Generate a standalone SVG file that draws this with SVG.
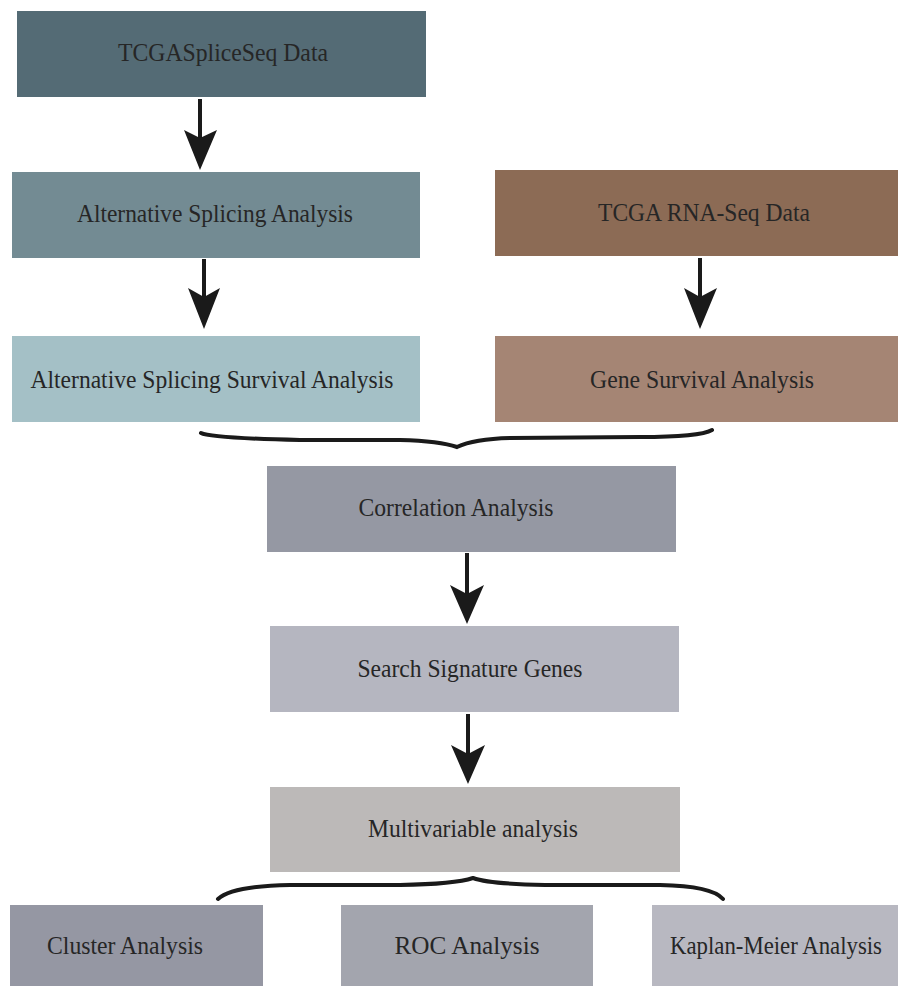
<svg xmlns="http://www.w3.org/2000/svg" width="898" height="986" viewBox="0 0 898 986">
<defs>
<style>
text.lbl{font-family:'Liberation Serif', 'DejaVu Serif', serif;font-size:25px;fill:#262626;text-anchor:middle}
.ln{stroke:#1a1a1a;stroke-width:4;fill:none}
.hd{fill:#1a1a1a}
.br{stroke:#1a1a1a;stroke-width:4;fill:none;stroke-linecap:round}
</style>
</defs>
<rect width="898" height="986" fill="#ffffff"/>
<g id="n1"><rect x="17" y="11" width="409" height="86" fill="#546b75"/><text class="lbl" x="223" y="61" textLength="210" lengthAdjust="spacingAndGlyphs">TCGASpliceSeq Data</text></g>
<g id="n2"><rect x="12" y="172" width="408" height="86" fill="#738b93"/><text class="lbl" x="215" y="222" textLength="276" lengthAdjust="spacingAndGlyphs">Alternative Splicing Analysis</text></g>
<g id="n3"><rect x="495" y="170" width="403" height="86" fill="#8c6b55"/><text class="lbl" x="704" y="221" textLength="212" lengthAdjust="spacingAndGlyphs">TCGA RNA-Seq Data</text></g>
<g id="n4"><rect x="12" y="336" width="408" height="86" fill="#a4c0c6"/><text class="lbl" x="212" y="388" textLength="363" lengthAdjust="spacingAndGlyphs">Alternative Splicing Survival Analysis</text></g>
<g id="n5"><rect x="495" y="336" width="403" height="86" fill="#a58574"/><text class="lbl" x="702" y="388" textLength="224" lengthAdjust="spacingAndGlyphs">Gene Survival Analysis</text></g>
<g id="n6"><rect x="267" y="466" width="409" height="86" fill="#9598a3"/><text class="lbl" x="456" y="516" textLength="195" lengthAdjust="spacingAndGlyphs">Correlation Analysis</text></g>
<g id="n7"><rect x="270" y="626" width="409" height="86" fill="#b5b6c0"/><text class="lbl" x="470" y="677" textLength="225" lengthAdjust="spacingAndGlyphs">Search Signature Genes</text></g>
<g id="n8"><rect x="270" y="787" width="410" height="85" fill="#bcb9b8"/><text class="lbl" x="473" y="837" textLength="210" lengthAdjust="spacingAndGlyphs">Multivariable analysis</text></g>
<g id="n9"><rect x="10" y="905" width="253" height="81" fill="#9597a3"/><text class="lbl" x="125" y="954" textLength="156" lengthAdjust="spacingAndGlyphs">Cluster Analysis</text></g>
<g id="n10"><rect x="341" y="905" width="252" height="81" fill="#a3a5ae"/><text class="lbl" x="467" y="954" textLength="145" lengthAdjust="spacingAndGlyphs">ROC Analysis</text></g>
<g id="n11"><rect x="652" y="905" width="246" height="81" fill="#b8b8c1"/><text class="lbl" x="776" y="954" textLength="212" lengthAdjust="spacingAndGlyphs">Kaplan-Meier Analysis</text></g>
<g id="connectors">
<line class="ln" x1="200" y1="99" x2="200" y2="140"/>
<path class="hd" d="M184,130 L200,138 L217,130 L200,170 Z"/>
<line class="ln" x1="204" y1="259" x2="204" y2="298"/>
<path class="hd" d="M188,288 L204,297 L220,288 L204,329 Z"/>
<line class="ln" x1="700" y1="258" x2="700" y2="298"/>
<path class="hd" d="M684,288 L700,297 L717,288 L700,329 Z"/>
<line class="ln" x1="467" y1="553" x2="467" y2="595"/>
<path class="hd" d="M450,585 L467,594 L484,585 L467,624 Z"/>
<line class="ln" x1="468" y1="714" x2="468" y2="755"/>
<path class="hd" d="M451,745 L468,754 L485,745 L468,784 Z"/>
<path class="br" d="M201,433 Q210,438 300,440 L400,440 Q440,441 457,447 Q474,439 510,438 L640,437 Q700,437 712,430"/>
<path class="br" d="M218,899 Q232,886 290,885 L400,885 Q455,884 473,878 Q490,884 545,885 L660,885 Q712,886 723,899"/>
</g>
</svg>
